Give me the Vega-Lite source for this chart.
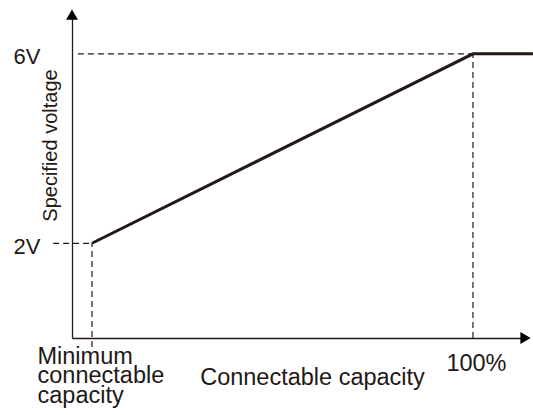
{
  "$schema": "https://vega.github.io/schema/vega-lite/v6.json",
  "width": 452,
  "height": 324,
  "autosize": "none",
  "padding": {"left": 72, "top": 14, "right": 9, "bottom": 77},
  "background": "white",
  "config": {"view": {"stroke": null}, "font": "Liberation Sans"},
  "datasets": {
    "curve": [
      {"capacity": 0, "voltage": 2},
      {"capacity": 100, "voltage": 6},
      {"capacity": 115.75, "voltage": 6}
    ],
    "guides": [
      {"x1": -3.7, "x2": 100, "y1": 6, "y2": 6},
      {"x1": 100, "x2": 100, "y1": 0, "y2": 6},
      {"x1": -10.2, "x2": 0, "y1": 2, "y2": 2},
      {"x1": 0, "x2": 0, "y1": -0.19, "y2": 2}
    ],
    "arrows": [
      {"x": -5.25, "y": 6.83, "shape": "triangle-up"},
      {"x": 113.8, "y": 0, "shape": "triangle-right"}
    ]
  },
  "layer": [
    {
      "data": {"name": "guides"},
      "mark": {"type": "rule", "color": "#231815", "strokeWidth": 1.2, "strokeDash": [6, 4]},
      "encoding": {
        "x": {"field": "x1", "type": "quantitative"},
        "x2": {"field": "x2"},
        "y": {"field": "y1", "type": "quantitative"},
        "y2": {"field": "y2"}
      }
    },
    {
      "data": {"name": "curve"},
      "mark": {"type": "line", "color": "#231815", "strokeWidth": 3, "strokeCap": "butt"},
      "encoding": {
        "x": {
          "field": "capacity",
          "type": "quantitative",
          "scale": {"domain": [-5.25, 113.4], "nice": false, "zero": false},
          "axis": {
            "values": [0, 100],
            "labelExpr": "datum.value == 0 ? ['Minimum', 'connectable', 'capacity'] : '100%'",
            "labelFontSize": 23.5,
            "labelColor": "#231815",
            "labelLineHeight": 19.5,
            "labelBaseline": "alphabetic",
            "labelAlign": {"condition": {"test": "datum.value == 0", "value": "left"}, "value": "center"},
            "labelOffset": {"condition": {"test": "datum.value == 0", "value": -55}, "value": 3},
            "labelPadding": {"condition": {"test": "datum.value == 0", "value": 25}, "value": 32},
            "labelFlush": false,
            "labelOverlap": false,
            "ticks": false,
            "tickSize": 0,
            "grid": false,
            "domainColor": "#231815",
            "domainWidth": 1.3,
            "title": "Connectable capacity",
            "titleFontSize": 23.5,
            "titleFontWeight": "normal",
            "titleColor": "#231815",
            "titleX": 240,
            "titleY": 46,
            "titleBaseline": "alphabetic",
            "titleAlign": "center"
          }
        },
        "y": {
          "field": "voltage",
          "type": "quantitative",
          "scale": {"domain": [0, 6.841], "nice": false, "zero": false},
          "axis": {
            "values": [2, 6],
            "labelExpr": "datum.value + 'V'",
            "labelFontSize": 22,
            "labelColor": "#231815",
            "labelPadding": 32,
            "labelBaseline": "middle",
            "labelOffset": 3,
            "labelFlush": false,
            "ticks": false,
            "tickSize": 0,
            "grid": false,
            "domainColor": "#231815",
            "domainWidth": 1.3,
            "title": "Specified voltage",
            "titleFontSize": 20,
            "titleFontWeight": "normal",
            "titleColor": "#231815",
            "titleX": -22,
            "titleY": 131,
            "titleAngle": -90,
            "titleBaseline": "middle",
            "titleAlign": "center"
          }
        }
      }
    },
    {
      "data": {"name": "arrows"},
      "mark": {"type": "point", "filled": true, "color": "#000000", "size": 140, "opacity": 1},
      "encoding": {
        "x": {"field": "x", "type": "quantitative"},
        "y": {"field": "y", "type": "quantitative"},
        "shape": {"field": "shape", "type": "nominal", "scale": null, "legend": null}
      }
    }
  ]
}
